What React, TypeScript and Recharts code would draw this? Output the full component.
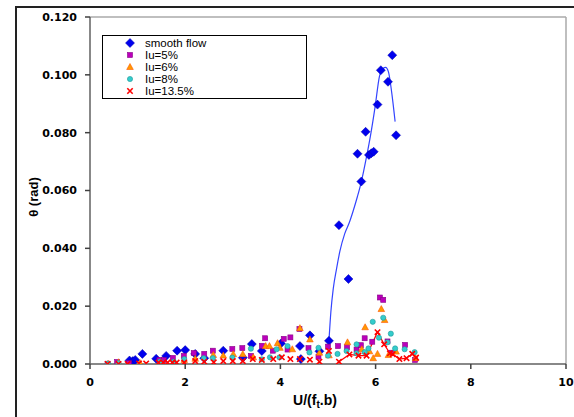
// @ts-nocheck
import { ScatterChart, Scatter, XAxis, YAxis, ReferenceLine } from 'recharts'

// smooth flow (blue diamonds)
const smoothX = [0.83, 0.9, 0.95, 1.1, 1.39, 1.6, 1.83, 2.0, 2.21, 2.4, 2.8, 3.21, 3.4, 3.61, 4.01, 4.41, 4.43, 4.62, 4.82, 5.02, 5.23, 5.43, 5.62, 5.7, 5.79, 5.86, 5.91, 5.96, 6.04, 6.11, 6.26, 6.35, 6.43]
const smoothY = [0.0012, 0.001, 0.0014, 0.0035, 0.0018, 0.0028, 0.0046, 0.0048, 0.0035, 0.002, 0.0046, 0.0022, 0.0069, 0.0045, 0.0071, 0.0062, 0.0017, 0.0099, 0.0044, 0.008, 0.048, 0.0294, 0.0727, 0.0631, 0.0803, 0.0723, 0.0729, 0.0734, 0.0897, 0.1016, 0.0976, 0.1068, 0.0791]

// trend line drawn through the smooth flow peak
const fitX = [5.02, 5.06, 5.11, 5.18, 5.25, 5.35, 5.45, 5.53, 5.62, 5.7, 5.81, 5.89, 5.99, 6.08, 6.16, 6.21, 6.27, 6.34, 6.41]
const fitY = [0.008, 0.018, 0.026, 0.033, 0.039, 0.045, 0.049, 0.053, 0.058, 0.063, 0.0717, 0.0787, 0.089, 0.0994, 0.1023, 0.1026, 0.101, 0.0937, 0.0838]

// Iu=5%
const iu5X = [0.37, 0.57, 0.82, 1.46, 1.55, 1.74, 1.97, 2.18, 2.4, 2.58, 2.99, 3.2, 3.38, 3.61, 3.68, 3.84, 4.07, 4.15, 4.21, 4.4, 4.59, 4.8, 5.0, 5.21, 5.4, 5.6, 5.69, 5.77, 5.93, 6.09, 6.16, 6.25, 6.33, 6.62, 6.83]
const iu5Y = [0.0001, 0.0007, 0.0003, 0.0014, 0.0014, 0.0021, 0.0028, 0.0038, 0.0035, 0.0046, 0.0052, 0.0055, 0.0028, 0.0063, 0.0089, 0.0046, 0.0087, 0.005, 0.0092, 0.0121, 0.0055, 0.0025, 0.006, 0.0062, 0.0058, 0.005, 0.0065, 0.0089, 0.0077, 0.023, 0.0222, 0.0078, 0.0039, 0.0066, 0.0014]

// Iu=6%
const iu6X = [0.38, 0.6, 1.05, 1.98, 2.21, 2.59, 2.8, 3.01, 3.21, 3.43, 3.69, 3.77, 3.94, 3.99, 4.25, 4.41, 4.62, 4.82, 5.02, 5.41, 5.71, 5.78, 5.87, 5.95, 6.04, 6.12, 6.19, 6.27, 6.43, 6.84]
const iu6Y = [0.0001, 0.0006, 0.0003, 0.0014, 0.0018, 0.0031, 0.0029, 0.0034, 0.0034, 0.0023, 0.0062, 0.0062, 0.0072, 0.0056, 0.0051, 0.0124, 0.0085, 0.0039, 0.003, 0.0075, 0.0051, 0.0127, 0.0044, 0.002, 0.0035, 0.019, 0.0152, 0.0031, 0.0043, 0.002]

// Iu=8%
const iu8X = [0.38, 0.6, 1.47, 1.76, 1.98, 2.39, 2.58, 2.99, 3.38, 3.61, 3.78, 3.92, 3.98, 4.15, 4.61, 4.8, 5.0, 5.2, 5.39, 5.6, 5.6, 5.77, 5.85, 5.94, 6.07, 6.16, 6.25, 6.32, 6.41, 6.61, 6.82]
const iu8Y = [0.0001, 0.0003, 0.0008, 0.0008, 0.0017, 0.002, 0.002, 0.0022, 0.0053, 0.0016, 0.0023, 0.0051, 0.0023, 0.0062, 0.004, 0.0056, 0.0029, 0.0035, 0.0045, 0.0068, 0.0037, 0.0041, 0.0054, 0.0146, 0.0091, 0.016, 0.0075, 0.0105, 0.0054, 0.0051, 0.0041]

// Iu=13.5%
const iu135X = [0.37, 0.6, 0.79, 1.03, 1.18, 1.44, 1.54, 1.63, 1.73, 1.82, 1.98, 2.21, 2.4, 2.6, 2.8, 3.0, 3.21, 3.42, 3.61, 3.85, 4.03, 4.21, 4.41, 4.62, 4.82, 5.02, 5.23, 5.45, 5.64, 5.81, 6.04, 6.18, 6.3, 6.36, 6.5, 6.65, 6.77, 6.85]
const iu135Y = [0, 0, 0, 0.0002, 0.0002, 0.0005, 0.0005, 0.0005, 0.0005, 0.0005, 0.0005, 0.001, 0.0008, 0.0006, 0.001, 0.001, 0.001, 0.0017, 0.0014, 0.0017, 0.0023, 0.0017, 0.0017, 0.0015, 0.0008, 0.0045, 0.0008, 0.0033, 0.0029, 0.0029, 0.011, 0.0068, 0.0037, 0.0034, 0.0017, 0.002, 0.0035, 0.0022]

const xTicks = [0, 2, 4, 6, 8, 10]
const yTicks = [0, 0.02, 0.04, 0.06, 0.08, 0.1, 0.12]

const pts = (xs, ys) => xs.map((x, i) => ({ x, y: ys[i] }))

const BLUE = '#0000ee'
const MAG = '#bb00bb'
const ORANGE = '#ff9900'
const TEAL = '#33cccc'
const RED = '#ff0000'

const Diamond = ({ cx, cy }) => (
  <path d={`M${cx},${cy - 4.5}L${cx + 4.5},${cy}L${cx},${cy + 4.5}L${cx - 4.5},${cy}Z`} fill={BLUE} stroke="#0000aa" strokeWidth={0.5} />
)
const Square = ({ cx, cy }) => (
  <rect x={cx - 2.5} y={cy - 2.5} width={5} height={5} fill={MAG} stroke="#880088" strokeWidth={0.6} />
)
const Tri = ({ cx, cy }) => (
  <path d={`M${cx},${cy - 3.5}L${cx + 3.3},${cy + 2.5}L${cx - 3.3},${cy + 2.5}Z`} fill={ORANGE} stroke="#ff5500" strokeWidth={0.6} />
)
const Dot = ({ cx, cy }) => <circle cx={cx} cy={cy} r={2.6} fill={TEAL} stroke="#229999" strokeWidth={0.6} />
const Cross = ({ cx, cy }) => (
  <path d={`M${cx - 2.7},${cy - 2.7}L${cx + 2.7},${cy + 2.7}M${cx + 2.7},${cy - 2.7}L${cx - 2.7},${cy + 2.7}`} stroke={RED} strokeWidth={1.6} />
)
const Nothing = () => <g />

const legendItems = [
  { name: 'smooth flow', Icon: Diamond },
  { name: 'Iu=5%', Icon: Square },
  { name: 'Iu=6%', Icon: Tri },
  { name: 'Iu=8%', Icon: Dot },
  { name: 'Iu=13.5%', Icon: Cross },
]

const LegendBox = () => (
  <div style={{ position: 'absolute', left: 102, top: 35, width: 205, height: 64, border: '1px solid #000', background: '#fff', boxSizing: 'border-box', paddingTop: 1, fontFamily: 'Liberation Sans, Arial, sans-serif', fontSize: 11.5, color: '#000' }}>
    {legendItems.map(({ name, Icon }) => (
      <div key={name} style={{ height: 12, display: 'flex', alignItems: 'center', lineHeight: '12px' }}>
        <svg width={12} height={12} style={{ marginLeft: 21, marginRight: 9 }}>
          <Icon cx={6} cy={6} />
        </svg>
        <span style={{ lineHeight: '11px' }}>{name}</span>
      </div>
    ))}
  </div>
)

const tickFont = { fontFamily: 'DejaVu Sans, sans-serif', fontSize: 11, fontWeight: 'bold', fill: '#000' }

export default function App() {
  return (
    <div style={{ position: 'absolute', left: 0, top: 0, width: 574, height: 417, overflow: 'hidden', background: '#fff' }}>
      <div style={{ position: 'absolute', left: 15, top: 6, width: 559, height: 411, borderTop: '2px solid #222', borderLeft: '2px solid #222', boxSizing: 'border-box' }} />
      <ScatterChart width={574} height={417} margin={{ top: 17, right: 8, bottom: 0, left: 0 }} style={{ position: 'absolute', left: 0, top: 0 }}>
        <XAxis
          type="number"
          dataKey="x"
          domain={[0, 10]}
          ticks={xTicks}
          allowDataOverflow
          height={53}
          tickSize={5}
          tickMargin={9}
          tick={tickFont}
          stroke="#606060"
          strokeWidth={1.5}
          tickLine={{ stroke: '#404040' }}
          label={() => (
            <text x={315} y={405} textAnchor="middle" style={{ fontFamily: 'Liberation Sans, Arial, sans-serif', fontSize: 14, fontWeight: 'bold' }} fill="#000">
              U/(f<tspan fontSize={10} dy={3}>t</tspan><tspan dy={-3}>.b)</tspan>
            </text>
          )}
        />
        <YAxis
          type="number"
          dataKey="y"
          domain={[0, 0.12]}
          ticks={yTicks}
          allowDataOverflow
          width={90}
          tickSize={5}
          tickMargin={8}
          tick={tickFont}
          tickFormatter={(v) => v.toFixed(3)}
          stroke="#606060"
          strokeWidth={1.5}
          tickLine={{ stroke: '#404040' }}
          label={() => (
            <text x={38} y={197} transform="rotate(-90 38 197)" textAnchor="middle" style={{ fontFamily: 'Liberation Sans, Arial, sans-serif', fontSize: 13, fontWeight: 'bold' }} fill="#000">
              θ (rad)
            </text>
          )}
        />
        <ReferenceLine y={0.12} stroke="#aaaaaa" strokeWidth={1.5} />
        <ReferenceLine x={10} stroke="#aaaaaa" strokeWidth={1.5} />
        <Scatter name="fit" data={pts(fitX, fitY)} line={{ stroke: '#3344ff', strokeWidth: 1.2 }} lineJointType="monotoneX" shape={<Nothing />} isAnimationActive={false} legendType="none" />
        <Scatter
          name="fit135"
          data={pts(iu135X, iu135Y).filter((p) => p.x >= 5.2)}
          line={{ stroke: RED, strokeWidth: 1.2 }}
          shape={<Nothing />}
          isAnimationActive={false}
          legendType="none"
        />
        <Scatter name="smooth flow" data={pts(smoothX, smoothY)} shape={<Diamond />} isAnimationActive={false} />
        <Scatter name="Iu=5%" data={pts(iu5X, iu5Y)} shape={<Square />} isAnimationActive={false} />
        <Scatter name="Iu=6%" data={pts(iu6X, iu6Y)} shape={<Tri />} isAnimationActive={false} />
        <Scatter name="Iu=8%" data={pts(iu8X, iu8Y)} shape={<Dot />} isAnimationActive={false} />
        <Scatter name="Iu=13.5%" data={pts(iu135X, iu135Y)} shape={<Cross />} isAnimationActive={false} />
      </ScatterChart>
      <LegendBox />
    </div>
  )
}
